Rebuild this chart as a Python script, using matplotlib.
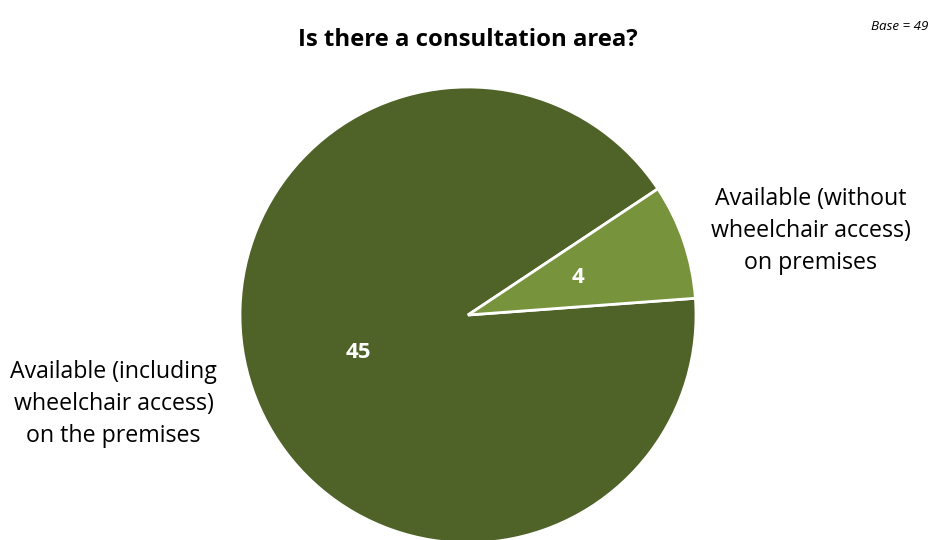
import numpy as np
import matplotlib.pyplot as plt

plt.rcParams['font.family'] = ['Open Sans', 'DejaVu Sans']

# Consultation area responses
categories = ["Available (including\nwheelchair access)\non the premises",
              "Available (without\nwheelchair access)\non premises"]
counts = [45, 4]
colors = ["#4F6228", "#77933C"]
base_n = sum(counts)

fig = plt.figure(figsize=(9.33, 5.4), dpi=100)
ax = fig.add_axes([240 / 933, -3 / 540, 456 / 933, 456 / 540])

wedges, _, autotexts = ax.pie(
    counts,
    colors=colors,
    startangle=33.6,
    counterclock=True,
    radius=1.0,
    autopct=lambda p: f"{p * base_n / 100:.0f}",
    pctdistance=0.51,
    wedgeprops=dict(edgecolor="white", linewidth=2),
    textprops=dict(color="white", fontsize=16, fontweight="bold"),
)
ax.set_xlim(-1, 1)
ax.set_ylim(-1, 1)
ax.set_aspect("equal")

# category labels outside the pie
label_pos = [(-1.555, -0.392), (1.504, 0.37)]
for (x, y), txt in zip(label_pos, categories):
    ax.text(x, y, txt, ha="center", va="center", fontsize=16.7,
            color="#000000", linespacing=1.45, clip_on=False)

fig.text(468 / 933, 1 - 40 / 540, "Is there a consultation area?",
         ha="center", va="center", fontsize=17.2, fontweight="bold")
fig.text(928 / 933, 1 - 27 / 540, f"Base = {base_n}",
         ha="right", va="center", fontsize=9.6, style="italic")

fig.savefig("out.png", dpi=100)
